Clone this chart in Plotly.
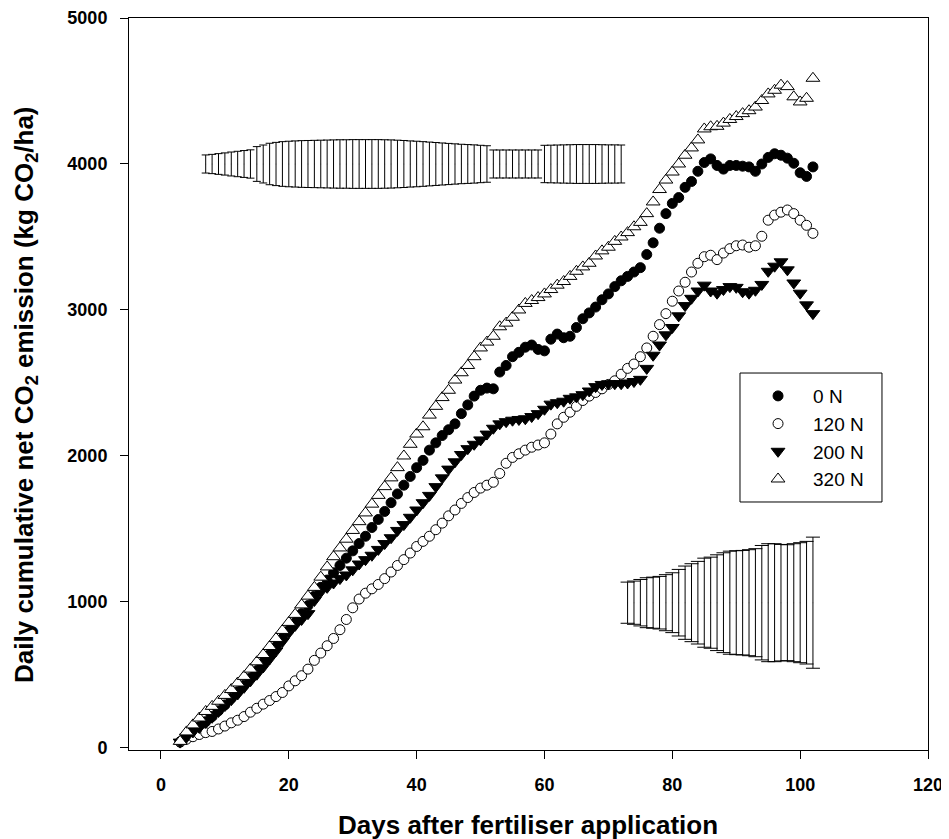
import plotly.graph_objects as go

days = list(range(3, 103))

n0 = [40, 80, 110, 145, 180, 215, 255, 295, 340, 385,
      430, 480, 530, 585, 640, 695, 750, 805, 860, 920,
      975, 1040, 1100, 1150, 1200, 1250, 1300, 1350, 1400, 1450,
      1510, 1565, 1620, 1680, 1740, 1800, 1860, 1920, 1970, 2040,
      2090, 2140, 2180, 2220, 2290, 2350, 2410, 2450, 2465, 2460,
      2575, 2620, 2680, 2710, 2745, 2760, 2730, 2720, 2800, 2835,
      2810, 2820, 2880, 2940, 2980, 3020, 3070, 3110, 3160, 3200,
      3230, 3260, 3290, 3380, 3460, 3560, 3660, 3730, 3770, 3840,
      3880, 3950, 4010, 4035, 3990, 3965, 3990, 3990, 3985, 3980,
      3950, 4000, 4045, 4070, 4060, 4040, 4005, 3940, 3915, 3980]

n120 = [43, 60, 77, 92, 105, 113, 130, 150, 172, 190,
        215, 245, 272, 300, 325, 352, 380, 425, 460, 495,
        540, 600, 650, 700, 750, 810, 880, 960, 1020, 1060,
        1090, 1120, 1160, 1205, 1250, 1290, 1335, 1380, 1415, 1450,
        1495, 1540, 1590, 1630, 1675, 1715, 1750, 1780, 1800, 1820,
        1880, 1950, 1990, 2015, 2040, 2060, 2075, 2090, 2150, 2220,
        2265, 2300, 2340, 2380, 2410, 2435, 2460, 2490, 2515, 2560,
        2600, 2630, 2680, 2740, 2820, 2900, 2975, 3060, 3130, 3190,
        3260, 3320, 3365, 3375, 3345, 3390, 3420, 3440, 3445, 3430,
        3440, 3505, 3615, 3650, 3670, 3685, 3660, 3615, 3580, 3525]

n200 = [40, 75, 110, 140, 175, 210, 250, 290, 330, 370,
        415, 460, 505, 555, 610, 665, 730, 790, 840, 880,
        920, 1010, 1070, 1100, 1130, 1160, 1185, 1220, 1260, 1290,
        1320, 1360, 1400, 1440, 1490, 1530, 1580, 1630, 1680, 1730,
        1790, 1850, 1910, 1960, 2010, 2050, 2080, 2110, 2150, 2190,
        2220, 2235, 2245, 2250, 2255, 2270, 2290, 2320, 2355, 2365,
        2375, 2395, 2405, 2420, 2445, 2475, 2490, 2495, 2495, 2495,
        2500, 2510, 2525, 2600, 2690, 2760, 2830, 2880, 2960, 3030,
        3080, 3130, 3170, 3130, 3115, 3140, 3160, 3155, 3125, 3115,
        3135, 3175, 3265, 3300, 3330, 3275, 3185, 3115, 3035, 2975]

n320 = [45, 110, 158, 205, 250, 285, 320, 360, 400, 445,
        490, 540, 590, 640, 695, 750, 805, 860, 915, 980,
        1040, 1100, 1170, 1240, 1310, 1370, 1430, 1490, 1550, 1610,
        1670, 1730, 1790, 1850, 1920, 2000, 2080, 2150, 2200, 2280,
        2340, 2400, 2450, 2520, 2570, 2620, 2680, 2740, 2780, 2820,
        2885, 2910, 2950, 3000, 3045, 3065, 3085, 3110, 3140, 3170,
        3195, 3230, 3265, 3295, 3320, 3370, 3405, 3430, 3470, 3500,
        3530, 3570, 3600, 3660, 3740, 3825, 3890, 3945, 4000, 4060,
        4110, 4165, 4240, 4255, 4258, 4280, 4305, 4325, 4345, 4365,
        4390, 4435, 4480, 4505, 4540, 4530, 4460, 4425, 4450, 4587]

# error-bar bands (standard errors), drawn as free-standing bars
err_top_days = list(range(7, 73))
err_top_center = 4000
err_top_hw = [62, 66, 71, 76, 82, 87, 92, 97, 119, 130,
              142, 148, 153, 156, 158, 160, 161, 162, 163, 164,
              165, 166, 166, 167, 167, 167, 167, 167, 166, 165,
              163, 161, 158, 156, 153, 150, 147, 144, 141, 138,
              135, 133, 131, 128, 125, 96, 96, 96, 96, 96,
              96, 96, 96, 128, 129, 130, 131, 132, 133, 133,
              133, 133, 132, 131, 131, 130]

err_low_days = list(range(73, 103))
err_low_center = 995
err_low_hw = [141, 148, 159, 171, 175, 180, 192, 205, 228, 251,
              267, 283, 305, 312, 328, 342, 353, 356, 358, 363,
              370, 392, 404, 404, 399, 397, 404, 411, 420, 449]

series_names = ["0 N", "120 N", "200 N", "320 N"]
series_values = [n0, n120, n200, n320]

FONT = "Liberation Sans, Arial, sans-serif"

fig = go.Figure()

for d, c, hw, cap in [(err_top_days, err_top_center, err_top_hw, 4),
                      (err_low_days, err_low_center, err_low_hw, 7)]:
    fig.add_trace(go.Scatter(
        x=d, y=[c] * len(d), mode="markers",
        marker=dict(size=1, color="rgba(0,0,0,0.3)"),
        error_y=dict(type="data", array=hw, symmetric=True,
                     color="black", thickness=1, width=cap),
        showlegend=False, hoverinfo="skip"))

styles = [
    dict(symbol="circle", size=10, color="black", line=dict(color="black", width=1)),
    dict(symbol="circle", size=10, color="white", line=dict(color="black", width=1)),
    dict(symbol="triangle-down", size=12, color="black", line=dict(color="black", width=1)),
    dict(symbol="triangle-up", size=12, color="white", line=dict(color="black", width=1)),
]

for i, (name, vals) in enumerate(zip(series_names, series_values)):
    fig.add_trace(go.Scatter(
        x=days, y=vals, mode="markers", name=name,
        marker=styles[i], legendgroup=name))

axis_common = dict(
    showline=True, linecolor="black", linewidth=1, mirror=True,
    ticks="outside", ticklen=8, tickwidth=1, tickcolor="black",
    showgrid=False, zeroline=False, automargin=False,
    tickfont=dict(family=FONT, size=18, color="black", weight="bold"),
)

fig.update_xaxes(range=[-5, 120], tickvals=[0, 20, 40, 60, 80, 100, 120],
                 ticklabelstandoff=10, **axis_common)
fig.update_yaxes(range=[-14, 5000], tickvals=[0, 1000, 2000, 3000, 4000, 5000],
                 ticklabelstandoff=9, **axis_common)

fig.update_layout(
    width=941, height=831,
    margin=dict(l=121, r=21, t=10, b=89, autoexpand=False),
    paper_bgcolor="white", plot_bgcolor="white",
    font=dict(family=FONT, color="black"),
    legend=dict(
        x=0.7685, y=0.5095, xanchor="left", yanchor="top",
        borderwidth=0, bgcolor="rgba(0,0,0,0)",
        font=dict(family=FONT, size=19, color="black"),
        itemwidth=60, traceorder="grouped", tracegroupgap=0,
    ),
    shapes=[
        dict(type="rect", xref="paper", yref="paper",
             x0=0.7647, x1=0.9424, y0=0.3388, y1=0.515,
             line=dict(color="black", width=1), fillcolor="rgba(0,0,0,0)",
             layer="above"),
    ],
    annotations=[
        dict(text="Days after fertiliser application", xref="paper", yref="paper",
             x=0.4994, y=-0.1025, xanchor="center", yanchor="middle", showarrow=False,
             font=dict(family=FONT, size=26, color="black", weight="bold")),
        dict(text="Daily cumulative net CO<sub>2</sub> emission (kg CO<sub>2</sub>/ha)",
             xref="paper", yref="paper", x=-0.1289, y=0.485, textangle=-90,
             xanchor="center", yanchor="middle", showarrow=False,
             font=dict(family=FONT, size=26, color="black", weight="bold")),
    ],
)

fig.write_html("out.html")
